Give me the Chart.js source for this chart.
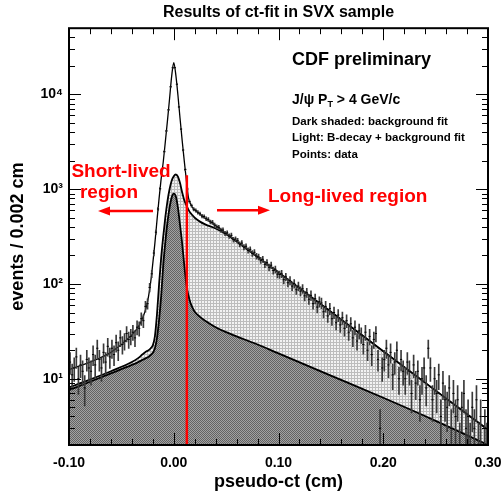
<!DOCTYPE html>
<html>
<head>
<meta charset="utf-8">
<title>Results of ct-fit in SVX sample</title>
<script src="https://cdn.jsdelivr.net/npm/chart.js@4.4.1/dist/chart.umd.min.js"></script>
<style>
  html, body { margin: 0; padding: 0; background: #fff; }
  #c { display: block; }
</style>
</head>
<body>
<canvas id="c" width="502" height="500"></canvas>
<script>
/* --- data --- */

// histogram: 200 bins of 0.002 cm from -0.10 to 0.30
const BIN_START = -0.1;
const BIN_WIDTH = 0.002;
const COUNTS = [
  15, 11, 13, 17, 10, 14, 12, 8, 16, 13,
  12, 18, 14, 21, 16, 13, 19, 15, 22, 17,
  21, 18, 24, 20, 27, 23, 25, 30, 26, 28,
  31, 27, 35, 34, 43, 41, 58, 62, 92, 128,
  212, 352, 618, 1012, 1610, 2490, 4120, 6880, 12050, 19100,
  19150, 12820, 7380, 4310, 2590, 1612, 1005, 742, 672, 615,
  598, 570, 552, 520, 515, 488, 480, 452, 447, 418,
  400, 396, 370, 371, 342, 346, 320, 326, 294, 298,
  286, 263, 270, 245, 250, 226, 232, 210, 216, 197,
  193, 178, 182, 161, 168, 150, 158, 139, 143, 127,
  126, 128, 111, 119, 103, 109, 95, 101, 87, 95,
  84, 89, 75, 81, 69, 76, 62, 70, 57, 65,
  63, 51, 58, 46, 55, 43, 50, 39, 47, 37,
  44, 34, 41, 31, 38, 27, 35, 25, 32, 29,
  23, 31, 20, 28, 18, 26, 30, 16, 3, 13,
  16, 21, 14, 19, 11, 15, 20, 10, 16, 12,
  10, 15, 12, 7, 14, 9, 12, 6, 10, 13,
  8, 21, 13, 6, 10, 7, 11, 4, 9, 6,
  5, 8, 3, 7, 4, 6, 2, 5, 7, 3,
  4, 2, 5, 3, 6, 2, 4, 1, 3, 2
];

// fit curves, sampled at FIT_X
const FIT_X = [
  -0.100, -0.080, -0.060, -0.040, -0.034, -0.030, -0.026, -0.024, -0.022, -0.020,
  -0.018, -0.016, -0.014, -0.012, -0.010, -0.008, -0.006, -0.004, -0.002, 0.000,
  0.002, 0.004, 0.006, 0.008, 0.010, 0.012, 0.014, 0.016, 0.018, 0.020,
  0.025, 0.030, 0.040, 0.050, 0.060, 0.080, 0.100, 0.150, 0.200, 0.250, 0.300
];
const TOTAL_FIT = [
  12.5, 15, 19, 29, 35, 43, 58, 75, 105, 165,
  270, 470, 800, 1300, 1950, 3200, 5300, 9000, 15500, 21700,
  16000, 9800, 5600, 3300, 2000, 1250, 820, 700, 640, 605,
  545, 495, 414, 342, 283, 193, 132, 51, 19.5, 7.5, 2.9
];
const LIGHT_FIT = [
  8.1, 9.8, 12, 15, 16.5, 18, 19.5, 20, 21, 22.5,
  28, 48, 100, 190, 320, 510, 750, 1000, 1230, 1370,
  1430, 1360, 1160, 930, 770, 680, 610, 560, 530, 500,
  455, 425, 385, 335, 281, 193, 132, 51, 19.5, 7.5, 2.9
];
const DARK_FIT = [
  7.6, 9.3, 11.4, 14, 15, 15.8, 16.6, 17.1, 17.8, 18.8,
  21, 27, 42, 75, 160, 280, 450, 640, 820, 900,
  840, 640, 420, 270, 160, 100, 76, 63, 56, 51,
  45, 41, 35, 31, 28, 23, 18.5, 10.8, 6.3, 3.6, 2.0
];

// short/long lived separation
const CUT_X = 0.0125;
const CUT_TOP = 1400;

// axes
const X_TICKS = [-0.1, 0, 0.1, 0.2, 0.3];
const Y_MAJOR = [10, 100, 1000, 10000];
const Y_LABELS = { 10: '10\u00b9', 100: '10\u00b2', 1000: '10\u00b3', 10000: '10\u2074' };
const Y_MINOR = [2, 3, 4, 5, 6, 7, 8, 9, 20, 30, 40, 50, 60, 70, 80, 90,
  200, 300, 400, 500, 600, 700, 800, 900, 2000, 3000, 4000, 5000, 6000, 7000, 8000, 9000,
  20000, 30000, 40000];

// arrows (data coords)
const ARROWS = [
  { from: -0.0198, to: -0.0723, y: 590 },
  { from: 0.0413, to: 0.0919, y: 600 }
];

/* --- helpers --- */
const FONT = "'Liberation Sans', Arial, Helvetica, sans-serif";
Chart.defaults.font.family = FONT;
Chart.defaults.color = '#000';

function makePattern(size, paint) {
  const c = document.createElement('canvas');
  c.width = size; c.height = size;
  const g = c.getContext('2d');
  paint(g);
  return document.getElementById('c').getContext('2d').createPattern(c, 'repeat');
}

const darkPattern = makePattern(2, g => {
  g.fillStyle = '#636363'; g.fillRect(0, 0, 2, 2);
  g.fillStyle = '#a2a2a2'; g.fillRect(1, 0, 1, 1); g.fillRect(0, 1, 1, 1);
});
const lightPattern = makePattern(3, g => {
  g.fillStyle = '#f2f2f2'; g.fillRect(0, 0, 3, 3);
  g.fillStyle = '#bcbcbc'; g.fillRect(0, 0, 3, 1); g.fillRect(0, 0, 1, 3);
});

const binX = i => BIN_START + (i + 0.5) * BIN_WIDTH;
const points = COUNTS.map((n, i) => ({ x: binX(i), y: n }));
const errBars = COUNTS.map((n, i) => {
  const e = Math.sqrt(n);
  return { x: binX(i), y: [Math.max(n - e, 0.05), n + e] };
});
const curve = arr => FIT_X.map((x, i) => ({ x, y: arr[i] }));

/* --- frame, inside ticks and annotations --- */
const rootFrame = {
  id: 'rootFrame',
  afterDatasetsDraw(chart) {
    const { ctx, chartArea: a, scales: { x, y } } = chart;
    ctx.save();
    ctx.strokeStyle = '#000';
    ctx.lineWidth = 1;
    ctx.beginPath();
    y.ticks.forEach(t => {
      const py = Math.round(y.getPixelForValue(t.value)) + 0.5;
      const len = Y_MAJOR.includes(t.value) ? 12 : 6;
      ctx.moveTo(a.left, py); ctx.lineTo(a.left + len, py);
      ctx.moveTo(a.right, py); ctx.lineTo(a.right - len, py);
    });
    for (let i = 0; i <= 20; i++) {
      const v = -0.1 + i * 0.02;
      const px = Math.round(x.getPixelForValue(v)) + 0.5;
      const len = i % 5 === 0 ? 12 : 6;
      ctx.moveTo(px, a.top); ctx.lineTo(px, a.top + len);
      ctx.moveTo(px, a.bottom); ctx.lineTo(px, a.bottom - len);
    }
    ctx.stroke();
    ctx.lineWidth = 2;
    ctx.strokeRect(a.left, a.top, a.width, a.height);
    ctx.restore();
  },
  afterDraw(chart) {
    const { ctx, scales: { x, y } } = chart;
    ctx.save();
    ctx.textBaseline = 'middle';
    ctx.textAlign = 'left';
    ctx.fillStyle = '#000';

    ctx.font = 'bold 18px ' + FONT;
    ctx.fillText('CDF preliminary', 292, 60);

    ctx.font = 'bold 14px ' + FONT;
    let tx = 292;
    ctx.fillText('J/\u03c8 P', tx, 100);
    tx += ctx.measureText('J/\u03c8 P').width;
    ctx.font = 'bold 9px ' + FONT;
    ctx.fillText('T', tx, 105);
    tx += ctx.measureText('T').width;
    ctx.font = 'bold 14px ' + FONT;
    ctx.fillText(' > 4 GeV/c', tx, 100);

    ctx.font = 'bold 11.5px ' + FONT;
    ctx.fillText('Dark shaded: background fit', 292, 122);
    ctx.fillText('Light: B-decay + background fit', 292, 138);
    ctx.fillText('Points: data', 292, 155);

    ctx.fillStyle = '#ff0000';
    ctx.font = 'bold 19px ' + FONT;
    ctx.textAlign = 'center';
    ctx.fillText('Short-lived', 121, 172);
    ctx.fillText('region', 109, 193);
    ctx.textAlign = 'left';
    ctx.fillText('Long-lived region', 268, 197);

    ctx.strokeStyle = '#ff0000';
    ctx.lineWidth = 2.5;
    ARROWS.forEach(ar => {
      const x0 = x.getPixelForValue(ar.from);
      const x1 = x.getPixelForValue(ar.to);
      const py = y.getPixelForValue(ar.y);
      const dir = Math.sign(x1 - x0);
      ctx.beginPath();
      ctx.moveTo(x0, py); ctx.lineTo(x1 - dir * 8, py);
      ctx.stroke();
      ctx.beginPath();
      ctx.moveTo(x1, py);
      ctx.lineTo(x1 - dir * 12, py - 4.5);
      ctx.lineTo(x1 - dir * 12, py + 4.5);
      ctx.closePath();
      ctx.fill();
    });
    ctx.restore();
  }
};

/* --- chart --- */
new Chart(document.getElementById('c'), {
  type: 'line',
  data: {
    datasets: [
      {
        label: 'cut',
        data: [{ x: CUT_X, y: CUT_TOP }, { x: CUT_X, y: 1 }],
        borderColor: '#ff0000',
        borderWidth: 2.5,
        pointRadius: 0,
        order: 0
      },
      {
        label: 'data',
        data: points,
        showLine: false,
        pointStyle: 'line',
        pointRadius: 1.1,
        pointBorderWidth: 1,
        pointBorderColor: '#000',
        order: 1
      },
      {
        type: 'bar',
        label: 'errors',
        data: errBars,
        backgroundColor: '#3a3a3a',
        borderWidth: 0,
        barThickness: 1,
        grouped: false,
        order: 2
      },
      {
        label: 'total fit',
        data: curve(TOTAL_FIT),
        borderColor: '#000',
        borderWidth: 1.3,
        pointRadius: 0,
        cubicInterpolationMode: 'monotone',
        fill: false,
        order: 3
      },
      {
        label: 'background fit',
        data: curve(DARK_FIT),
        borderColor: '#000',
        borderWidth: 1.8,
        backgroundColor: darkPattern,
        pointRadius: 0,
        cubicInterpolationMode: 'monotone',
        fill: 'start',
        order: 4
      },
      {
        label: 'B-decay + background fit',
        data: curve(LIGHT_FIT),
        borderColor: '#000',
        borderWidth: 1.8,
        backgroundColor: lightPattern,
        pointRadius: 0,
        cubicInterpolationMode: 'monotone',
        fill: 'start',
        order: 5
      }
    ]
  },
  options: {
    responsive: false,
    animation: false,
    events: [],
    layout: { padding: { left: 0, right: 14, top: 0, bottom: 0 } },
    plugins: {
      legend: { display: false },
      tooltip: { enabled: false },
      title: {
        display: true,
        text: 'Results of ct-fit in SVX sample',
        fullSize: false,
        color: '#000',
        font: { size: 16, weight: 'bold' },
        padding: { top: 3, bottom: 6 }
      }
    },
    scales: {
      x: {
        type: 'linear',
        min: -0.1,
        max: 0.3,
        offset: false,
        grid: { display: false, drawTicks: false },
        border: { display: false },
        afterBuildTicks: axis => { axis.ticks = X_TICKS.map(v => ({ value: v })); },
        afterFit: axis => {
          axis.height = 55;
          axis.paddingLeft = 0;
          axis.paddingRight = 0;
        },
        ticks: {
          autoSkip: false,
          maxRotation: 0,
          padding: 10,
          color: '#000',
          font: { size: 14, weight: 'bold' },
          callback: v => v.toFixed(2)
        },
        title: {
          display: true,
          text: 'pseudo-ct (cm)',
          color: '#000',
          font: { size: 18, weight: 'bold' },
          padding: { top: 0, bottom: 7 }
        }
      },
      y: {
        type: 'logarithmic',
        min: 2,
        max: 50000,
        grid: { display: false, drawTicks: false },
        border: { display: false },
        afterBuildTicks: axis => {
          axis.ticks = Y_MINOR.concat(Y_MAJOR).sort((a, b) => a - b).map(v => ({ value: v }));
        },
        afterFit: axis => {
          axis.width = 69;
          axis.paddingTop = 0;
          axis.paddingBottom = 0;
        },
        ticks: {
          autoSkip: false,
          padding: 6,
          color: '#000',
          font: { size: 14, weight: 'bold' },
          callback: v => Y_LABELS[v] || ''
        },
        title: {
          display: true,
          text: 'events / 0.002 cm',
          color: '#000',
          font: { size: 18, weight: 'bold' },
          padding: { top: 7, bottom: 0 }
        }
      }
    }
  },
  plugins: [rootFrame]
});
</script>
</body>
</html>
